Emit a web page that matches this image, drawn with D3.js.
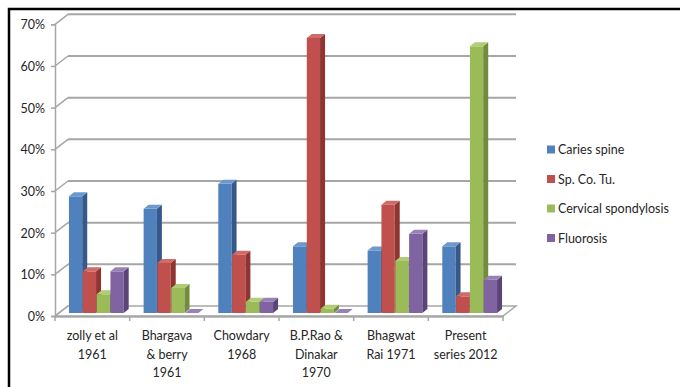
<!DOCTYPE html>
<html>
<head>
<meta charset="utf-8">
<script src="https://cdn.jsdelivr.net/npm/d3@7"></script>
<style>
  html, body { margin: 0; padding: 0; background: #fff; }
  svg { display: block; }
  text { font-family: Lato, "Open Sans", sans-serif; fill: #262626; }
</style>
</head>
<body>
<svg id="chart" width="680" height="387"></svg>
<script>
// Study groups (x categories), each label split into lines
const categories = [
  ["zolly et al", "1961"],
  ["Bhargava", "& berry", "1961"],
  ["Chowdary", "1968"],
  ["B.P.Rao &", "Dinakar", "1970"],
  ["Bhagwat", "Rai 1971"],
  ["Present", "series 2012"]
];
const seriesNames = ["Caries spine", "Sp. Co. Tu.", "Cervical spondylosis", "Fluorosis"];
const cariesSpine = [0.28, 0.25, 0.31, 0.16, 0.15, 0.16];
const spCoTu      = [0.10, 0.12, 0.14, 0.66, 0.26, 0.04];
const cervical    = [0.045, 0.06, 0.027, 0.01, 0.125, 0.64];
const fluorosis   = [0.10, 0.0, 0.027, 0.0, 0.19, 0.08];
const yTicks = [0, 0.1, 0.2, 0.3, 0.4, 0.5, 0.6, 0.7];

const seriesValues = [cariesSpine, spCoTu, cervical, fluorosis];
const front = ["#4F81BD", "#C0504D", "#9BBB59", "#8064A2"];
const side  = ["#36598A", "#8E3431", "#728C3E", "#5B4578"];
const top_  = ["#6D98CC", "#D16B68", "#B0CC74", "#9781B6"];

const svg = d3.select("#chart");

// Frame around the figure
svg.append("path")
  .attr("d", "M9,387 V9 H680")
  .attr("fill", "none").attr("stroke", "#000").attr("stroke-width", 2.5);

// Geometry of the 3D box: front plane, wall depth, bar plane
const x0 = 55, x1 = 503;
const wallDx = 13, wallDy = -10;
const barDx = 0, barDy = -3;      // bar front faces sit slightly behind the front plane
const barDepthX = 5, barDepthY = -4;

const y = d3.scaleLinear().domain([0, 0.7]).range([316, 24.3]);
const x = d3.scaleBand().domain(d3.range(categories.length)).range([x0, x1]).padding(0);
const xs = d3.scaleBand().domain(d3.range(seriesNames.length))
  .range([0, x.bandwidth()]).paddingInner(0.04).paddingOuter(0.72);

const grid = svg.append("g");
// Floor
grid.append("path")
  .attr("d", `M${x0},${y(0)} H${x1} L${x1 + wallDx},${y(0) + wallDy} H${x0 + wallDx} Z`)
  .attr("fill", "#fff").attr("stroke", "#a6a6a6").attr("stroke-width", 1.5);
grid.append("line")
  .attr("x1", x0).attr("x2", x1).attr("y1", y(0) + 1.5).attr("y2", y(0) + 1.5)
  .attr("stroke", "#c8c8c8").attr("stroke-width", 1);

// Back-wall gridlines and side-wall diagonals
yTicks.forEach(t => {
  const yy = y(t);
  if (t > 0) {
    grid.append("line")
      .attr("x1", x0 + wallDx).attr("x2", x1 + wallDx)
      .attr("y1", yy + wallDy).attr("y2", yy + wallDy)
      .attr("stroke", "#a6a6a6").attr("stroke-width", 2);
  }
  grid.append("line")
    .attr("x1", x0).attr("y1", yy).attr("x2", x0 + wallDx).attr("y2", yy + wallDy)
    .attr("stroke", "#a6a6a6").attr("stroke-width", 1.5);
});

// Front vertical axis with ticks and labels
const yAxis = d3.axisLeft(y).tickValues(yTicks).tickSize(4).tickFormat(d3.format(".0%"));
const ya = svg.append("g").attr("transform", `translate(${x0},0)`).call(yAxis);
ya.select(".domain").attr("stroke", "#a6a6a6").attr("stroke-width", 1.5);
ya.selectAll(".tick line").attr("stroke", "#a6a6a6").attr("stroke-width", 1.5);
ya.selectAll(".tick text")
  .attr("x", -10).attr("dy", "0.35em")
  .style("font-size", "12.5px").style("fill", "#262626");

// Category ticks along the front floor edge
const xAxis = d3.axisBottom(x).tickSize(0).tickFormat("");
const xa = svg.append("g").attr("transform", `translate(0,${y(0)})`).call(xAxis);
xa.select(".domain").attr("stroke", "#a6a6a6").attr("stroke-width", 1.5);
xa.selectAll(".tick").remove();
d3.range(categories.length + 1).forEach(i => {
  const bx = x0 + i * x.bandwidth();
  xa.append("line").attr("x1", bx).attr("x2", bx).attr("y1", 0).attr("y2", 5)
    .attr("stroke", "#a6a6a6").attr("stroke-width", 1.5);
});

// Category labels
const labels = svg.append("g");
categories.forEach((lines, i) => {
  const cx = x(i) + x.bandwidth() / 2;
  const t = labels.append("text").attr("text-anchor", "middle")
    .attr("x", cx).attr("y", 340).style("font-size", "12.5px");
  lines.forEach((ln, j) => {
    t.append("tspan").attr("x", cx).attr("y", 340 + j * 18.5).text(ln);
  });
});

// 3D bars
const bars = svg.append("g");
const base = y(0) + barDy;
categories.forEach((c, i) => {
  seriesValues.forEach((vals, s) => {
    const v = vals[i];
    const bx = x(i) + xs(s) + barDx + 4;
    const bw = xs.bandwidth();
    const ty = y(v) + barDy;
    const g = bars.append("g");
    // front face
    g.append("rect").attr("x", bx).attr("y", ty).attr("width", bw).attr("height", Math.max(0, base - ty))
      .attr("fill", front[s]);
    // right side face
    g.append("path")
      .attr("d", `M${bx + bw},${ty} L${bx + bw + barDepthX},${ty + barDepthY} L${bx + bw + barDepthX},${base + barDepthY} L${bx + bw},${base} Z`)
      .attr("fill", side[s]);
    // top face
    g.append("path")
      .attr("d", `M${bx},${ty} L${bx + barDepthX},${ty + barDepthY} L${bx + bw + barDepthX},${ty + barDepthY} L${bx + bw},${ty} Z`)
      .attr("fill", top_[s]);
  });
});

// Legend
const legend = svg.append("g");
seriesNames.forEach((name, s) => {
  const ly = 150 + s * 29.5;
  legend.append("rect").attr("x", 547).attr("y", ly - 4.5).attr("width", 8).attr("height", 8)
    .attr("fill", front[s]);
  legend.append("text").attr("x", 558).attr("y", ly).attr("dy", "0.35em")
    .style("font-size", "12.5px").text(name);
});
</script>
</body>
</html>
